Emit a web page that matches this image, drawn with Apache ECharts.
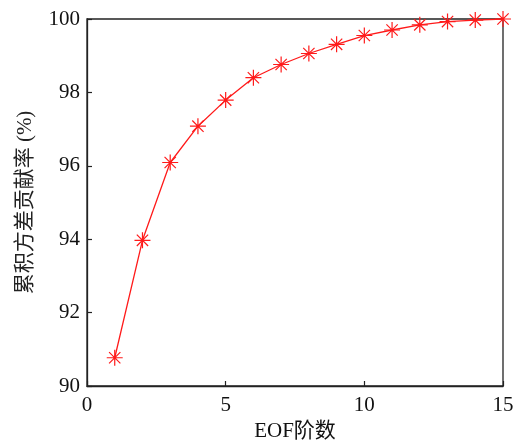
<!DOCTYPE html>
<html>
<head>
<meta charset="utf-8">
<script src="https://cdn.jsdelivr.net/npm/echarts@6/dist/echarts.min.js"></script>
<style>
  html, body { margin: 0; padding: 0; background: #fff; }
  #chart { width: 520px; height: 441px; }
</style>
</head>
<body>
<div id="chart"></div>
<script>
// EOF mode order and cumulative explained variance (%)
const eofOrder = [1, 2, 3, 4, 5, 6, 7, 8, 9, 10, 11, 12, 13, 14, 15];
const cumulativeVariance = [90.77, 93.97, 96.09, 97.08, 97.79, 98.40, 98.76, 99.06, 99.31, 99.55, 99.70, 99.84, 99.93, 99.97, 100.0];
const xTicks = [0, 5, 10, 15];
const yTicks = [90, 92, 94, 96, 98, 100];

const serif = '"Liberation Serif", "Times New Roman", "Noto Sans CJK SC", serif';
const red = '#ff1a1a';
const asterisk = 'path://M0,-10L0,10M-10,0L10,0M-7.07,-7.07L7.07,7.07M-7.07,7.07L7.07,-7.07';

const chart = echarts.init(document.getElementById('chart'), null, { renderer: 'canvas' });
chart.setOption({
  animation: false,
  backgroundColor: '#ffffff',
  grid: {
    left: 87, right: 17, top: 19, bottom: 55,
    outerBoundsMode: 'none', containLabel: false,
    show: true, borderColor: '#222', borderWidth: 1.3, backgroundColor: 'transparent'
  },
  xAxis: {
    type: 'value',
    min: xTicks[0], max: xTicks[xTicks.length - 1], interval: 5,
    name: 'EOF阶数', nameLocation: 'middle', nameGap: 28,
    nameTextStyle: { fontFamily: serif, fontSize: 21, color: '#111' },
    axisLine: { show: true, lineStyle: { color: '#222', width: 1.3 } },
    axisTick: { show: true, inside: true, length: 5, lineStyle: { color: '#222', width: 1.2 } },
    axisLabel: { fontFamily: serif, fontSize: 21, color: '#111', margin: 9 },
    splitLine: { show: false }
  },
  yAxis: {
    type: 'value',
    min: yTicks[0], max: yTicks[yTicks.length - 1], interval: 2,
    name: '累积方差贡献率 (%)', nameLocation: 'middle', nameGap: 51,
    nameTextStyle: { fontFamily: serif, fontSize: 21, color: '#222' },
    axisLine: { show: true, lineStyle: { color: '#222', width: 1.3 } },
    axisTick: { show: true, inside: true, length: 5, lineStyle: { color: '#222', width: 1.2 } },
    axisLabel: { fontFamily: serif, fontSize: 21, color: '#111', margin: 7 },
    splitLine: { show: false }
  },
  series: [{
    type: 'line',
    data: eofOrder.map((k, i) => [k, cumulativeVariance[i]]),
    symbol: asterisk,
    symbolSize: 16,
    showAllSymbol: true,
    lineStyle: { color: red, width: 1.3 },
    itemStyle: { color: 'none', borderColor: red, borderWidth: 1.2 },
    z: 3
  }]
});
</script>
</body>
</html>
